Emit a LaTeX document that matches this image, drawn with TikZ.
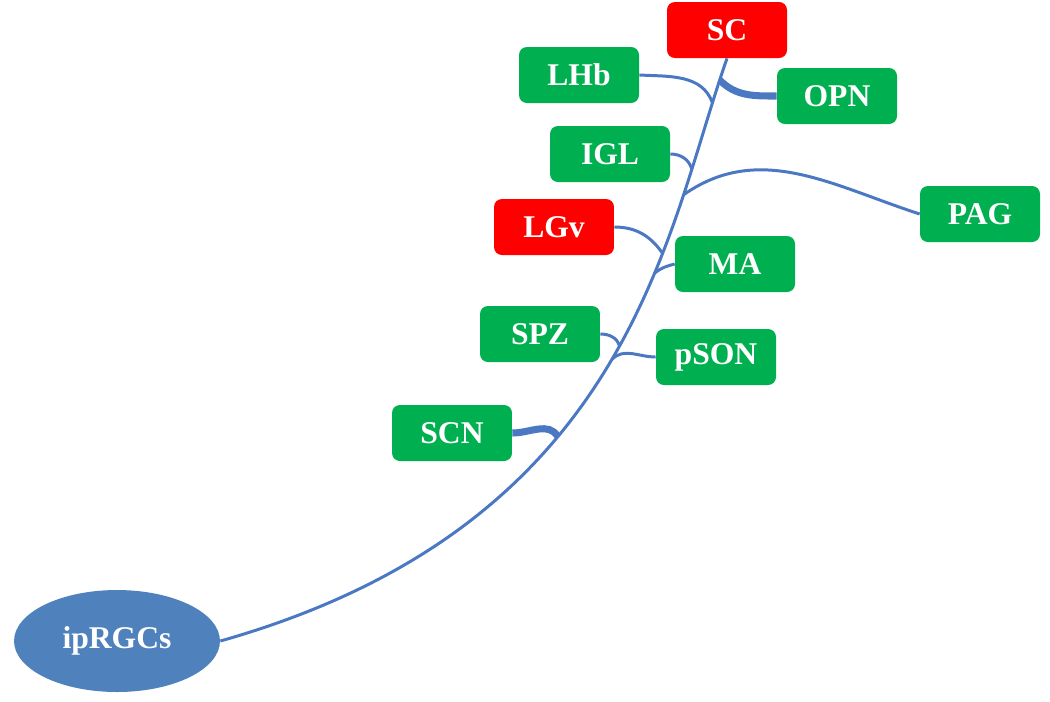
\documentclass[tikz,border=0pt]{standalone}
\usepackage{fontspec}
\setmainfont{Liberation Serif}
\usepackage{xcolor}
\usepackage{tikz}
\usetikzlibrary{shapes.geometric}

\definecolor{nucgreen}{HTML}{00B050}
\definecolor{nucred}{HTML}{FF0000}
\definecolor{cellblue}{HTML}{4F81BD}
\definecolor{fibreblue}{HTML}{4A78C2}

\begin{document}
\begin{tikzpicture}[x=0.02cm, y=-0.02cm,
        nucleus/.style={rectangle, rounded corners=4.5pt, fill=nucgreen, text=white, minimum width=2.4cm, minimum height=1.12cm, font=\fontsize{18}{20}\selectfont\bfseries},
        target/.style={nucleus, fill=nucred},
        retina/.style={ellipse, fill=cellblue, text=white, minimum width=4.12cm, minimum height=2.04cm, inner sep=0pt, font=\fontsize{18}{20}\selectfont\bfseries},
        fibre/.style={draw=fibreblue, line width=1.7pt},
        bundle/.style={draw=fibreblue, line width=4pt}
        ]
        \useasboundingbox (0,0) rectangle (1050,701);
        \node[retina] (ip) at (117,641) {ipRGCs};
        \node[target] (sc) at (727,30) {SC};
        \node[nucleus] (lhb) at (579,75) {LHb};
        \node[nucleus] (opn) at (837,96) {OPN};
        \node[nucleus] (igl) at (610,154) {IGL};
        \node[target] (lgv) at (554,227) {LGv};
        \node[nucleus] (pag) at (980,214) {PAG};
        \node[nucleus] (ma) at (735,264) {MA};
        \node[nucleus] (spz) at (540,334) {SPZ};
        \node[nucleus] (pson) at (716,357) {pSON};
        \node[nucleus] (scn) at (452,433) {SCN};

        \draw[fibre] (ip.east) .. controls (630,525) and (665,235) .. (sc.south)
            coordinate[pos=0.4] (jscn)
            coordinate[pos=0.52] (jpson)
            coordinate[pos=0.54] (jspz)
            coordinate[pos=0.65] (jma)
            coordinate[pos=0.68] (jlgv)
            coordinate[pos=0.77] (jpag)
            coordinate[pos=0.81] (jigl)
            coordinate[pos=0.92] (jlhb)
            coordinate[pos=0.96] (jopn);

        \draw[bundle] (scn.east) to[out=0, in=120] (jscn);
        \draw[fibre] (spz.east) to[out=0, in=105] (jspz);
        \draw[fibre] (pson.west) to[out=180, in=45] (jpson);
        \draw[fibre] (ma.west) to[out=195, in=40] (jma);
        \draw[fibre] (lgv.east) to[out=0, in=125] (jlgv);
        \draw[fibre] (jpag) to[out=35, in=162] (pag.west);
        \draw[fibre] (igl.east) to[out=0, in=105] (jigl);
        \draw[fibre] (lhb.east) to[out=-3, in=110] (jlhb);
        \draw[bundle] (jopn) to[out=-45, in=180] (opn.west);
        \end{tikzpicture}
\end{document}
